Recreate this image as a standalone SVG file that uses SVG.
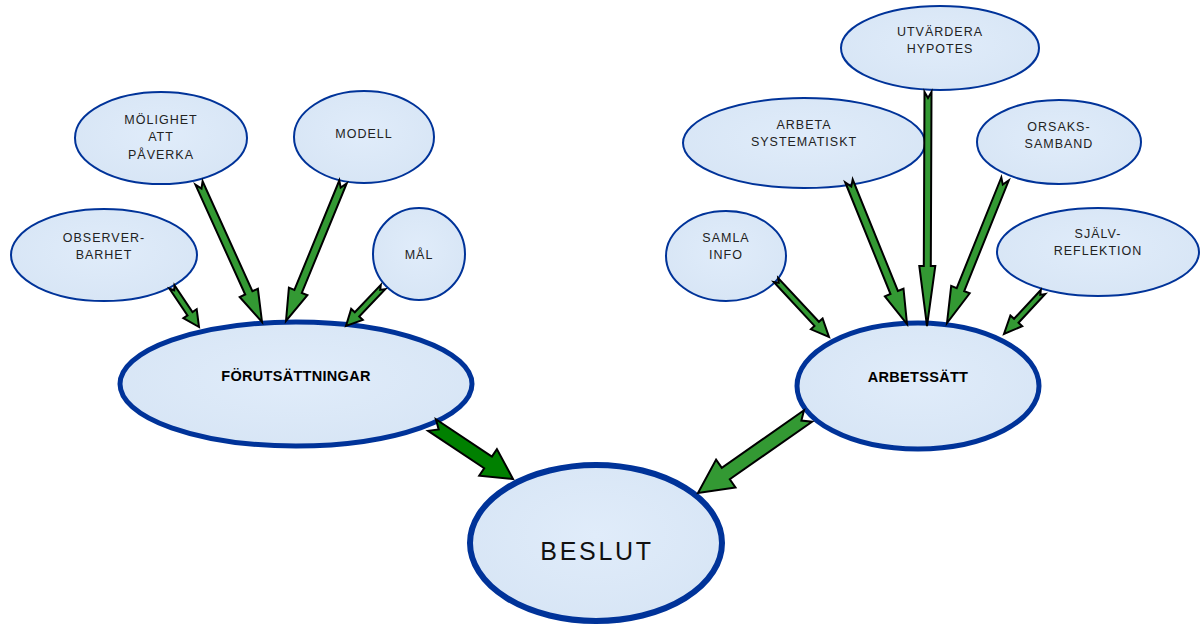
<svg xmlns="http://www.w3.org/2000/svg" width="1200" height="625" viewBox="0 0 1200 625">
<defs>
<radialGradient id="fillg" cx="50%" cy="45%" r="60%">
<stop offset="0" stop-color="#e0ecfa"/>
<stop offset="1" stop-color="#d7e5f5"/>
</radialGradient>
</defs>
<style>
.n{fill:url(#fillg);stroke:#003399;stroke-width:2}
.big{stroke-width:5}
.huge{stroke-width:6}
.t{font-family:"Liberation Sans",Arial,sans-serif;font-size:12.5px;fill:#222;text-anchor:middle;letter-spacing:1px}
.tb{font-family:"Liberation Sans",Arial,sans-serif;font-size:14.5px;font-weight:bold;fill:#000;text-anchor:middle;letter-spacing:0.3px}
.tbig{font-family:"Liberation Sans",Arial,sans-serif;font-size:25px;fill:#111;text-anchor:middle;letter-spacing:2.7px}
.a{fill:#339933;stroke:#000;stroke-width:2;stroke-linejoin:miter}
.ad{fill:#008000;stroke:#000;stroke-width:2;stroke-linejoin:miter}
</style>
<rect width="1200" height="625" fill="#fff"/>
<g id="observerbarhet"><ellipse class="n" cx="104" cy="255" rx="93" ry="46"/><text class="t" x="104" y="242">OBSERVER-</text><text class="t" x="104" y="259">BARHET</text></g>
<g id="molighet"><ellipse class="n" cx="161" cy="138" rx="86" ry="46"/><text class="t" x="161" y="124">MÖLIGHET</text><text class="t" x="161" y="141">ATT</text><text class="t" x="161" y="159">PÅVERKA</text></g>
<g id="modell"><ellipse class="n" cx="364" cy="137" rx="70" ry="46"/><text class="t" x="364" y="138">MODELL</text></g>
<g id="mal"><ellipse class="n" cx="419" cy="254" rx="46" ry="46"/><text class="t" x="419" y="259">MÅL</text></g>
<g id="forutsattningar"><ellipse class="n big" cx="296" cy="384" rx="176" ry="62"/><text class="tb" x="296" y="381">FÖRUTSÄTTNINGAR</text></g>
<g id="beslut"><ellipse class="n huge" cx="596" cy="543" rx="126" ry="78"/><text class="tbig" x="597" y="560">BESLUT</text></g>
<g id="arbetssatt"><ellipse class="n big" cx="918" cy="386" rx="121" ry="63"/><text class="tb" x="918" y="382">ARBETSSÄTT</text></g>
<g id="samlainfo"><ellipse class="n" cx="726" cy="256" rx="60" ry="45"/><text class="t" x="726" y="242">SAMLA</text><text class="t" x="726" y="259">INFO</text></g>
<g id="arbetasystematiskt"><ellipse class="n" cx="804" cy="143" rx="121" ry="45"/><text class="t" x="804" y="129">ARBETA</text><text class="t" x="804" y="146">SYSTEMATISKT</text></g>
<g id="utvarderahypotes"><ellipse class="n" cx="940" cy="48" rx="99" ry="42"/><text class="t" x="940" y="36">UTVÄRDERA</text><text class="t" x="940" y="53">HYPOTES</text></g>
<g id="orsakssamband"><ellipse class="n" cx="1059" cy="142" rx="82" ry="42"/><text class="t" x="1059" y="131">ORSAKS-</text><text class="t" x="1059" y="148">SAMBAND</text></g>
<g id="sjalvreflektion"><ellipse class="n" cx="1098" cy="252" rx="101" ry="44"/><text class="t" x="1098" y="238">SJÄLV-</text><text class="t" x="1098" y="255">REFLEKTION</text></g>
<g id="connectors">
<polygon class="a" points="169.5,288.7 187.5,315.4 183.4,318.2 199,327 196.7,309.2 192.5,312.0 174.5,285.3 174.2,290.3"/>
<polygon class="a" points="195.4,184.7 245.2,294.5 239.7,297.0 262,322 257.9,288.8 252.4,291.2 202.6,181.3 201.5,188.5"/>
<polygon class="a" points="339.3,180.5 294.4,289.9 288.9,287.6 286,321 307.4,295.2 301.8,292.9 346.7,183.5 340.7,187.6"/>
<polygon class="a" points="380.8,284.9 354.8,312.3 351.2,308.9 346,326 362.8,319.9 359.2,316.5 385.2,289.1 380.2,289.9"/>
<polygon class="ad" points="428.1,430.8 484.2,468.2 479.2,475.7 513,479 496.9,449.1 491.9,456.5 435.9,419.2 438.7,429.4"/>
<polygon class="a" points="804.0,410.3 721.8,467.8 716.1,459.6 698,493 735.5,487.4 729.8,479.2 812.0,421.7 801.4,420.6"/>
<polygon class="a" points="773.8,282.0 814.5,325.9 810.9,329.3 829,337 822.6,318.4 818.9,321.8 778.2,278.0 778.7,282.9"/>
<polygon class="a" points="845.3,182.5 890.5,294.0 884.9,296.3 907,324 903.5,288.7 897.9,291.0 852.7,179.5 851.3,186.6"/>
<polygon class="a" points="924.5,92 923.8,266 919.3,266 927,326 935.3,266 930.8,266 931.5,92 928,98"/>
<polygon class="a" points="1001.3,177.5 956.7,288.1 951.2,285.9 947,323 969.7,293.3 964.2,291.1 1008.7,180.5 1002.8,184.6"/>
<polygon class="a" points="1040.8,290.0 1014.1,318.8 1010.4,315.4 1004,334 1022.2,326.2 1018.5,322.8 1045.2,294.0 1040.3,294.9"/>
</g>
</svg>
